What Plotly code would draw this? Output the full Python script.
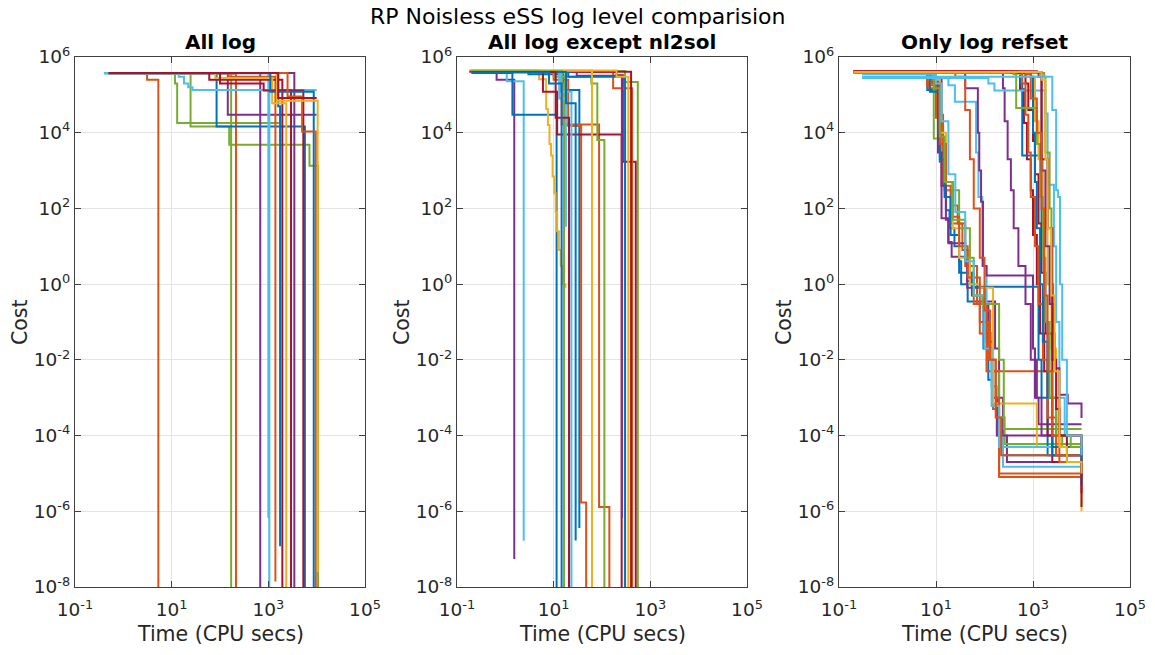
import plotly.graph_objects as go

# ---------------- data ----------------
Z = 1e-12  # cost reached (numerically) zero -> line drops off the axis

# Panel 1: "All log"
P1_T = [
    [0.45, 3.1, 5.3],
    [0.5, 11.7, 13, 1800],
    [0.5, 24.6, 155, 7100, 10700],
    [0.5, 170],
    [0.5, 214],
    [0.5, 145, 1.0e4],
    [0.5, 680],
    [0.4, 85, 5700],
    [0.4, 14, 18, 22, 27, 1.0e4],
    [0.4, 1000],
    [0.4, 1050],
    [0.5, 150, 1400],
    [0.5, 1600, 1750],
    [0.5, 60, 1950],
    [0.5, 80, 1200, 2350],
    [0.5, 100, 800, 2950],
    [0.5, 3450],
    [0.5, 1500, 5300],
    [0.5, 1100, 8700],
    [0.5, 2500, 5000, 9600],
    [0.5, 1500, 10500],
    [0.5, 1600, 1.0e4],
]
P1_C = [
    [3.8e5, 2.5e5, Z],
    [3.7e5, 2.0e5, 1.8e4, 1.8e4],
    [3.7e5, 1.45e4, 4.8e3, 1.35e3, Z],
    [3.7e5, Z],
    [3.6e5, Z],
    [3.8e5, 3.0e4, 3.0e4],
    [3.8e5, Z],
    [3.8e5, 1.45e4, Z],
    [3.7e5, 3.0e5, 2.0e5, 1.6e5, 1.35e5, 1.35e5],
    [3.7e5, 6.6e-7],
    [3.7e5, Z],
    [3.8e5, 3.0e5, 1.4e-8],
    [3.8e5, 5.0e4, 1.2e-7],
    [3.8e5, 2.5e5, Z],
    [3.8e5, 2.8e5, 6.0e4, Z],
    [3.8e5, 2.0e5, 1.3e5, Z],
    [3.8e5, Z],
    [3.8e5, 1.3e5, Z],
    [3.8e5, 1.2e5, Z],
    [3.8e5, 9.0e4, 1.07e4, Z],
    [3.8e5, 7.0e4, 2.5e-8],
    [3.8e5, 8.3e4, 8.3e4],
]
P1_COL = [1, 4, 4, 4, 1, 3, 3, 0, 5, 5, 5, 1, 0, 6, 2, 6, 3, 6, 0, 1, 2, 6]

# Panel 2: "All log except nl2sol"
P2_T = [
    [0.2, 0.66, 1.53],
    [0.2, 1.07, 2.4],
    [0.2, 1.4, 11.5],
    [0.18, 5.0, 7.0, 7.6, 8.2, 8.8, 9.5, 10.3, 11.0, 11.8, 12.8, 14, 15.5, 17.5],
    [0.2, 3, 16, 18, 34],
    [0.2, 10, 20, 37, 47],
    [0.2, 14.7, 87, 142],
    [0.2, 6, 11.8, 255],
    [0.2, 200, 270, 500],
    [0.2, 10, 60, 80, 112],
    [0.2, 300, 550],
    [0.2, 170, 420],
    [0.18, 400],
    [0.2, 30, 258],
    [0.2, 20, 300],
    [0.2, 62],
    [0.2, 200, 350],
    [0.2, 15, 16.4],
    [0.2, 13, 17.9],
    [0.2, 14, 23.3],
    [0.2, 18, 28.5],
    [0.2, 11, 20.8],
    [0.2, 8, 14.6],
]
P2_C = [
    [4.0e5, 2.5e5, 5.5e-8],
    [3.9e5, 2.3e5, 1.66e-7],
    [3.8e5, 3.0e4, Z],
    [4.5e5, 2.6e5, 4.2e4, 1.6e4, 5e3, 2.5e3, 700, 250, 80, 25, 8, 3, 1.0, 0.8],
    [4.0e5, 3.5e5, 2.0e5, 1.35e5, 3.6e-7],
    [4.1e5, 2.5e5, 1.5e4, 1.7e-6, Z],
    [4.1e5, 1.65e4, 1.3e-6, Z],
    [4.0e5, 1.2e5, 9.0e3, Z],
    [4.0e5, 3.3e5, 1.7e3, Z],
    [4.3e5, 3.0e5, 2.0e5, 6.4e3, Z],
    [4.3e5, 2.2e5, Z],
    [4.0e5, 1.5e5, Z],
    [4.1e5, Z],
    [4.0e5, 3.2e5, 6.6e-7],
    [4.0e5, 3.0e5, Z],
    [4.4e5, Z],
    [4.4e5, 3.0e5, Z],
    [4.2e5, 2.0e5, Z],
    [4.0e5, 8.0e4, 33],
    [4.0e5, 1.2e5, Z],
    [4.0e5, 6.0e4, 1.7e-7],
    [4.0e5, 2.5e4, Z],
    [3.9e5, 2.0e5, Z],
]
P2_COL = [3, 5, 0, 2, 0, 1, 1, 6, 6, 4, 4, 1, 6, 3, 0, 2, 2, 4, 5, 5, 0, 6, 0]

# Panel 3: "Only log refset"
P3_T = [
    [0.2, 6.6, 12, 14, 16, 19, 24, 30, 33, 45, 70, 95, 120, 150, 190, 240, 1.0e4],
    [0.2, 9, 13, 18, 21, 40, 44, 55, 70, 150, 165, 200, 240, 290, 1.0e4],
    [0.25, 7, 10, 13, 15, 22, 28, 35, 45, 60, 80, 110, 150, 200, 1.0e4],
    [0.2, 7, 9, 13, 16, 30, 50, 60, 100, 140, 200, 260, 1.0e4],
    [0.3, 18, 24.5, 67, 75, 90, 110, 140, 180, 240, 1.0e4],
    [0.2, 6.5, 10, 14, 20, 40, 70, 110, 150, 2500, 3000, 1.0e4],
    [0.2, 8, 11, 13, 16, 18, 40, 44, 100, 120, 150, 180, 1.0e4],
    [0.2, 40, 73, 78, 85, 93, 110, 1000, 1100, 1300, 1.0e4],
    [0.2, 7.5, 12, 15, 20, 30, 55, 1150, 1300, 1500, 2000, 1.0e4],
    [0.25, 9, 12, 16, 22, 30, 50, 80, 150, 1000, 1200, 1.0e4],
    [0.2, 8, 12, 16, 22, 30, 45, 80, 120, 170, 200, 1.0e4],
    [0.2, 9, 12, 15, 22, 40, 60, 90, 200, 250, 1.0e4],
    [0.3, 10, 13, 18, 25, 40, 60, 100, 140, 200, 1.0e4],
    [0.2, 25, 40, 50, 60, 80, 100, 130, 170, 220, 1.0e4],
    [0.2, 240, 260, 300, 350, 400, 500, 700, 900, 1200, 1500, 1.0e4],
    [0.2, 500, 540, 650, 750, 900, 1000, 1200, 1400, 1700, 2000, 2500, 1.0e4],
    [0.2, 550, 600, 1400, 1500, 1700, 2000, 2500, 1.0e4],
    [0.3, 120, 160, 1800, 2000, 2700, 3000, 3500, 4500, 1.0e4],
    [0.2, 1700, 1800, 2200, 2400, 2600, 3000, 4000, 1.0e4],
    [0.2, 400, 600, 1100, 1300, 1600, 2000, 2400, 3000, 1.0e4],
    [0.2, 300, 350, 700, 800, 1000, 1100, 1300, 1500, 1800, 2500, 3500, 1.0e4],
    [0.2, 600, 700, 800, 900, 1100, 1300, 1600, 2000, 3000, 1.0e4],
    [0.2, 900, 1000, 1100, 1200, 1400, 1600, 2000, 2500, 1.0e4],
    [0.2, 400, 450, 1100, 1200, 1400, 1600, 1800, 2200, 3000, 6000, 1.0e4],
    [0.2, 1300, 1500, 1800, 2200, 2600, 2800, 3500, 5200, 1.0e4],
    [0.3, 1200, 1500, 2000, 2500, 3000, 3500, 5000, 1.0e4],
    [0.2, 700, 900, 1200, 1500, 1700, 2000, 2500, 3500, 1.0e4],
    [0.2, 1500, 1800, 2000, 2400, 2800, 3500, 5000, 1.0e4],
    [0.3, 2500, 3000, 3300, 3600, 4000, 5000, 1.0e4],
]
P3_C = [
    [4.0e5, 1.35e5, 1.7e3, 1.3e3, 90, 30, 10, 4, 1.0, 0.35, 0.3, 0.02, 3e-3, 6e-4, 1.2e-4, 3e-5, 3e-5],
    [4.2e5, 2.5e5, 55, 13, 5.3, 4.3, 1.2, 0.5, 0.35, 0.35, 0.02, 1e-3, 1e-4, 2e-5, 2e-5],
    [3.8e5, 1.5e5, 2.5e4, 3e3, 300, 120, 40, 8, 2, 0.3, 0.05, 5e-3, 5e-4, 8e-6, 8e-6],
    [4.0e5, 2.5e5, 7e3, 1e3, 300, 30, 1.0, 0.5, 0.05, 5e-3, 3e-4, 6e-5, 6e-5],
    [2.8e5, 1.8e5, 6.6e4, 3e3, 200, 3, 0.05, 2e-3, 1e-4, 1.5e-5, 1.5e-5],
    [4.0e5, 1.8e5, 3e4, 400, 40, 3, 0.3, 0.03, 5e-3, 5e-3, 3e-5, 3e-5],
    [4.0e5, 2.2e5, 3e3, 400, 50, 12, 4, 0.8, 0.3, 0.02, 1e-3, 1e-4, 1e-4],
    [4.2e5, 1.5e5, 1e4, 1e3, 150, 3, 1.7, 0.02, 1e-3, 2e-4, 2e-4],
    [4.0e5, 1.2e5, 2e3, 200, 20, 2, 0.85, 0.85, 0.01, 1e-3, 3e-5, 3e-5],
    [4.3e5, 2.5e5, 1e4, 500, 30, 5, 1.0, 0.8, 7e-4, 7e-4, 5e-5, 5e-5],
    [4.0e5, 2e5, 5e3, 500, 60, 10, 1.5, 0.1, 0.01, 1e-3, 1e-5, 1e-5],
    [3.8e5, 1.5e5, 8e3, 500, 50, 5, 0.5, 0.3, 0.01, 1.5e-4, 1.5e-4],
    [3.5e5, 2e5, 2e4, 800, 80, 4, 0.5, 0.02, 6e-4, 5e-5, 5e-5],
    [4.0e5, 3e5, 4e4, 2e3, 100, 5, 0.2, 0.01, 3e-4, 3e-5, 3e-5],
    [4.2e5, 1.5e5, 2e4, 2e3, 300, 30, 3, 0.3, 0.01, 1e-3, 1e-4, 1e-5],
    [4.2e5, 4e5, 1.4e5, 1.8e4, 2e3, 300, 20, 1, 0.05, 5e-3, 1e-4, 2e-5, 2e-5],
    [4.0e5, 2e5, 2.5e3, 2.5e3, 10, 0.1, 1e-3, 3e-5, 3e-5],
    [2.8e5, 2.0e5, 1.3e5, 3.2e4, 420, 10, 0.1, 1e-3, 1e-4, 1e-4],
    [3.8e5, 3e5, 3e3, 100, 1, 0.01, 1e-4, 5e-5, 5e-5],
    [4.1e5, 3.6e5, 3.0e5, 2e4, 2e3, 100, 1, 0.02, 1e-4, 1e-6],
    [4.3e5, 4.0e5, 3.8e5, 2e5, 4e4, 6e3, 800, 40, 2, 0.05, 1e-3, 1e-4, 1.3e-6],
    [4.0e5, 2e5, 3e4, 3e3, 200, 10, 0.3, 0.01, 3e-4, 3e-5, 3e-5],
    [4.0e5, 3e5, 1e4, 500, 30, 1, 0.03, 1e-3, 5e-5, 5e-6],
    [3.9e5, 3.5e5, 4.5e4, 4.5e4, 5e3, 200, 5, 0.1, 1e-3, 1e-4, 5e-5, 5e-5],
    [4.0e5, 3.0e5, 1e3, 10, 0.3, 0.05, 6e-3, 1.2e-3, 7e-4, 2.9e-4],
    [4.2e5, 4e5, 2e3, 30, 0.01, 5e-4, 1e-4, 2e-5, 3e-6],
    [4.1e5, 3.5e5, 8e4, 1e4, 100, 0.5, 5e-3, 1e-4, 2e-5, 2e-5],
    [4.0e5, 2.5e5, 2e3, 30, 0.5, 5e-3, 5e-5, 2e-5, 1e-5],
    [3.0e5, 4e4, 300, 200, 1, 0.01, 1e-4, 3e-5],
]
P3_COL = [0, 3, 1, 4, 5, 1, 3, 3, 0, 2, 1, 4, 5, 1,
          3, 6, 0, 5, 4, 2, 6, 1, 0, 4, 3, 6, 1, 2, 5]

X_TICKS = [1e-1, 1e1, 1e3, 1e5]
X_TICKTEXT = ["10<sup>-1</sup>", "10<sup>1</sup>", "10<sup>3</sup>", "10<sup>5</sup>"]
Y_TICKS = [1e-8, 1e-6, 1e-4, 1e-2, 1e0, 1e2, 1e4, 1e6]
Y_TICKTEXT = ["10<sup>-8</sup>", "10<sup>-6</sup>", "10<sup>-4</sup>", "10<sup>-2</sup>",
              "10<sup>0</sup>", "10<sup>2</sup>", "10<sup>4</sup>", "10<sup>6</sup>"]

SUPTITLE = "RP Noisless eSS log level comparision"
TITLES = ["All log", "All log except nl2sol", "Only log refset"]
XLABEL = "Time (CPU secs)"
YLABEL = "Cost"

# ---------------- style ----------------
PALETTE = ["#0072BD", "#D95319", "#EDB120", "#7E2F8E", "#77AC30", "#4DBEEE", "#A2142F"]
W, H = 1155, 655
FONT = "DejaVu Sans"
TXT = "#262626"
X_DOM = [(75, 365), (457, 747), (839, 1130)]
Y_TOP, Y_BOT = 57, 587

fig = go.Figure()
panels = [(P1_T, P1_C, P1_COL), (P2_T, P2_C, P2_COL), (P3_T, P3_C, P3_COL)]
for i, (TT, CC, COL) in enumerate(panels):
    sfx = "" if i == 0 else str(i + 1)
    for t, c, k in zip(TT, CC, COL):
        fig.add_trace(go.Scatter(
            x=t, y=c, mode="lines",
            line=dict(shape="hv", color=PALETTE[k], width=2),
            showlegend=False, hoverinfo="skip",
            xaxis="x" + sfx, yaxis="y" + sfx))

layout = dict(
    template="none",
    width=W, height=H, margin=dict(l=0, r=0, t=0, b=0, pad=0, autoexpand=False),
    paper_bgcolor="white", plot_bgcolor="white",
    font=dict(family=FONT, color=TXT),
    annotations=[],
)
ydom = [1 - Y_BOT / H, 1 - Y_TOP / H]
for i, (x0, x1) in enumerate(X_DOM):
    sfx = "" if i == 0 else str(i + 1)
    common = dict(
        type="log", ticks="inside", ticklen=6, tickwidth=1, tickcolor="#404040",
        showline=True, linecolor="#404040", linewidth=1.2, mirror="ticks",
        showgrid=True, gridcolor="#e3e3e3", gridwidth=1, zeroline=False,
        automargin=False,
        tickfont=dict(family=FONT, size=18.5, color=TXT),
    )
    layout["xaxis" + sfx] = dict(common, domain=[x0 / W, x1 / W], range=[-1, 5],
                                 tickvals=X_TICKS, ticktext=X_TICKTEXT,
                                 ticklabelstandoff=6,
                                 anchor="y" + sfx)
    layout["yaxis" + sfx] = dict(common, domain=ydom, range=[-8, 6],
                                 tickvals=Y_TICKS, ticktext=Y_TICKTEXT,
                                 anchor="x" + sfx)
    cx = (x0 + x1) / 2 / W
    layout["annotations"] += [
        dict(text="<b>" + TITLES[i] + "</b>", x=cx, y=1 - 42 / H, xref="paper", yref="paper",
             showarrow=False, font=dict(size=20, color="black", family=FONT),
             xanchor="center", yanchor="middle"),
        dict(text=XLABEL, x=cx, y=1 - 634 / H, xref="paper", yref="paper",
             showarrow=False, font=dict(size=20.5, color=TXT, family=FONT),
             xanchor="center", yanchor="middle"),
        dict(text=YLABEL, x=(x0 - 55) / W, y=1 - 322 / H, xref="paper", yref="paper",
             showarrow=False, textangle=-90, font=dict(size=20.5, color=TXT, family=FONT),
             xanchor="center", yanchor="middle"),
    ]
layout["annotations"].append(
    dict(text=SUPTITLE, x=577 / W, y=1 - 17 / H, xref="paper", yref="paper",
         showarrow=False, font=dict(size=22, color="black", family=FONT),
         xanchor="center", yanchor="middle"))

fig.update_layout(**layout)
fig.write_html("out.html")
